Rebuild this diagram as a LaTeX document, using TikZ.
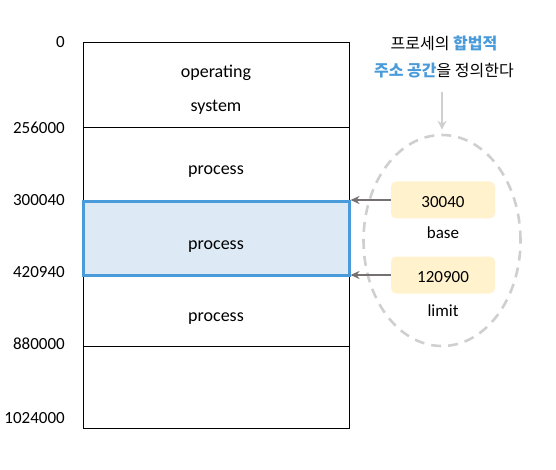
\documentclass[tikz,border=0pt]{standalone}
\usepackage{fontspec}
\setmainfont{Carlito}
\newfontfamily\krfont{Noto Sans CJK KR}
\usetikzlibrary{arrows.meta,shapes.geometric}
\definecolor{blue_c}{HTML}{4A9BD9}
\definecolor{blue_f}{HTML}{DDEAF6}
\definecolor{yel_f}{HTML}{FFF2CC}
\definecolor{arr_c}{HTML}{767171}
\definecolor{dash_c}{HTML}{CFCFCF}
\tikzset{
        mem_n/.style = {draw=black, line width=0.8pt, minimum width=266pt, inner sep=0pt,
            align=center, font=\fontsize{18}{34}\selectfont,
            text height=21pt, text depth=0pt},
        mem_b/.style = {mem_n, draw=blue_c, fill=blue_f, line width=3pt},
        addr_n/.style = {anchor=base east, inner sep=0pt, font=\fontsize{17}{20}\selectfont},
        reg_n/.style = {fill=yel_f, rounded corners=5pt, minimum width=104pt,
            minimum height=37pt, inner sep=0pt, text height=15.4pt, text depth=0pt,
            font=\fontsize{17}{20}\selectfont},
        lbl_n/.style = {anchor=base, inner sep=0pt, font=\fontsize{17}{20}\selectfont},
        ptr/.style = {-{Stealth[length=9pt,width=8pt]}, arr_c, line width=2.6pt}
    }

\begin{document}
\begin{tikzpicture}[x=1pt,y=-1pt]
            \useasboundingbox (0,0) rectangle (556,470);
            % memory layout
            \node [mem_n, minimum height=85pt, text height=55pt, text depth=0pt]
                (os) at (216,84.5) {operating\\system};
            \node [mem_n, minimum height=75pt] (p1) at (216,164.5) {process};
            \node [mem_n, minimum height=71pt] (p3) at (216,310.5) {process};
            \node [mem_n, minimum height=82pt] (free) at (216,387) {};
            \node [mem_b, minimum height=73pt] (p2) at (216,238.5) {process};
            % addresses
            \node [addr_n] (a0) at (65,48) {0};
            \node [addr_n] (a1) at (65,134) {256000};
            \node [addr_n] (a2) at (65,206) {300040};
            \node [addr_n] (a3) at (65,277) {420940};
            \node [addr_n] (a4) at (65,349) {880000};
            \node [addr_n] (a5) at (65,423) {1024000};
            % registers
            \node [ellipse, draw=dash_c, dashed, dash pattern=on 10pt off 7pt,
                line width=2.6pt, minimum width=157pt, minimum height=211pt]
                (regs) at (442,240.5) {};
            \node [reg_n] (base) at (443,200) {30040};
            \node [lbl_n] (base_l) at (443,238) {base};
            \node [reg_n] (limit) at (443,275) {120900};
            \node [lbl_n] (limit_l) at (443,316) {limit};
            \draw [ptr] (base.west) -- (base.west -| p2.east);
            \draw [ptr] (limit.west) -- (limit.west -| p2.east);
            % note
            \node [anchor=base, align=center, inner sep=0pt,
                font=\krfont\fontsize{16}{27}\selectfont] (note) at (444,77)
                {프로세의 \textcolor{blue_c}{\bfseries 합법적}\\
                 \textcolor{blue_c}{\bfseries 주소 공간}을 정의한다};
            \coordinate (n_tail) at (442,92);
            \draw [-{Stealth[length=9pt,width=9pt]}, dash_c, line width=2.4pt,
                shorten >=4pt] (n_tail) -- (regs.north);
        \end{tikzpicture}
\end{document}
